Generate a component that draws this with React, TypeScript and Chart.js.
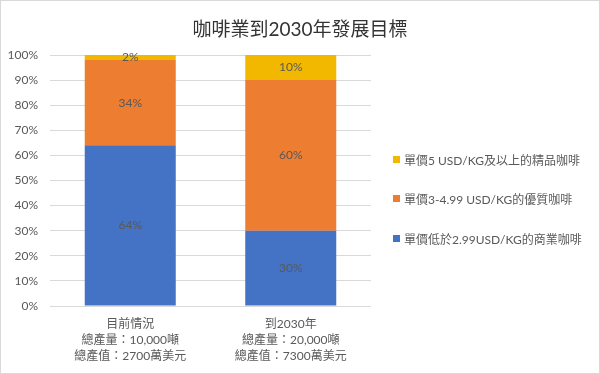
import React, { useEffect, useRef } from "react";
import { Chart, registerables } from "chart.js";

Chart.register(...registerables);

const title = "咖啡業到2030年發展目標";
const categories: string[][] = [
  ["目前情況", "總產量：10,000噸", "總產值：2700萬美元"],
  ["到2030年", "總產量：20,000噸", "總產值：7300萬美元"],
];
const seriesNames = [
  "單價低於2.99USD/KG的商業咖啡",
  "單價3-4.99 USD/KG的優質咖啡",
  "單價5 USD/KG及以上的精品咖啡",
];
const commercial = [64, 30];
const premium = [34, 60];
const specialty = [2, 10];
const colors = ["#4472C4", "#ED7D31", "#F2B800"];
const yTicks = [0, 10, 20, 30, 40, 50, 60, 70, 80, 90, 100];

const FONT = '"Lato", "Noto Sans CJK TC", sans-serif';

const bgPlugin = {
  id: "bgPlugin",
  beforeDraw(chart: any) {
    const ctx = chart.ctx;
    ctx.save();
    ctx.fillStyle = "#ffffff";
    ctx.fillRect(0, 0, chart.width, chart.height);
    ctx.strokeStyle = "#d9d9d9";
    ctx.lineWidth = 1;
    ctx.strokeRect(0.5, 0.5, chart.width - 1, chart.height - 1);
    ctx.restore();
  },
};

const labelPlugin = {
  id: "labelPlugin",
  afterDatasetsDraw(chart: any) {
    const ctx = chart.ctx;
    ctx.save();
    ctx.font = `12px ${FONT}`;
    ctx.fillStyle = "#595959";
    ctx.textAlign = "center";
    ctx.textBaseline = "middle";
    chart.data.datasets.forEach((ds: any, i: number) => {
      const meta = chart.getDatasetMeta(i);
      meta.data.forEach((bar: any, j: number) => {
        const v = ds.data[j];
        const cy = (bar.y + bar.base) / 2;
        ctx.fillText(v + "%", bar.x, cy);
      });
    });
    ctx.restore();
  },
};

const legendItems = [
  { name: seriesNames[2], color: colors[2], top: 159 },
  { name: seriesNames[1], color: colors[1], top: 198 },
  { name: seriesNames[0], color: colors[0], top: 238 },
];

export default function App() {
  const ref = useRef<HTMLCanvasElement>(null);
  useEffect(() => {
    document.body.style.margin = "0";
    const canvas = ref.current!;
    const chart = new Chart(canvas, {
      type: "bar",
      data: {
        labels: categories,
        datasets: [
          { label: seriesNames[0], data: commercial, backgroundColor: colors[0] },
          { label: seriesNames[1], data: premium, backgroundColor: colors[1] },
          { label: seriesNames[2], data: specialty, backgroundColor: colors[2] },
        ],
      },
      options: {
        animation: false,
        responsive: false,
        maintainAspectRatio: false,
        layout: { padding: { left: 0, right: 229, top: 55, bottom: 0 } },
        datasets: { bar: { categoryPercentage: 1, barPercentage: 0.567 } },
        plugins: {
          legend: { display: false },
          tooltip: { enabled: false },
          title: { display: false },
        },
        scales: {
          x: {
            stacked: true,
            grid: { display: false, drawTicks: false },
            border: { display: false },
            ticks: {
              padding: 10,
              color: "#595959",
              font: { family: FONT, size: 12, lineHeight: 1.34 },
              maxRotation: 0,
              autoSkip: false,
            },
            afterFit(scale: any) {
              scale.height = 68;
            },
          },
          y: {
            stacked: true,
            min: 0,
            max: 100,
            afterBuildTicks(scale: any) {
              scale.ticks = yTicks.map((v) => ({ value: v }));
            },
            grid: { color: "#d9d9d9", drawTicks: false, lineWidth: 1 },
            border: { display: false },
            ticks: {
              padding: 12,
              color: "#595959",
              font: { family: FONT, size: 12 },
              callback: (v: any) => v + "%",
            },
            afterFit(scale: any) {
              scale.width = 50;
            },
          },
        },
      },
      plugins: [bgPlugin, labelPlugin],
    } as any);
    return () => chart.destroy();
  }, []);

  return (
    <div style={{ position: "relative", width: 600, height: 374, overflow: "hidden" }}>
      <canvas ref={ref} width={600} height={374} style={{ display: "block", width: 600, height: 374 }} />
      <div
        style={{
          position: "absolute",
          left: 0,
          top: 17,
          width: 600,
          textAlign: "center",
          fontFamily: FONT,
          fontSize: 19,
          lineHeight: "24px",
          color: "#333333",
        }}
      >
        {title}
      </div>
      {legendItems.map((it) => (
        <div
          key={it.name}
          style={{
            position: "absolute",
            left: 393,
            top: it.top - 8,
            height: 16,
            display: "flex",
            alignItems: "center",
            fontFamily: FONT,
            fontSize: 12,
            color: "#595959",
            whiteSpace: "nowrap",
          }}
        >
          <span style={{ display: "inline-block", width: 7, height: 7, background: it.color, marginRight: 4 }} />
          <span>{it.name}</span>
        </div>
      ))}
    </div>
  );
}
